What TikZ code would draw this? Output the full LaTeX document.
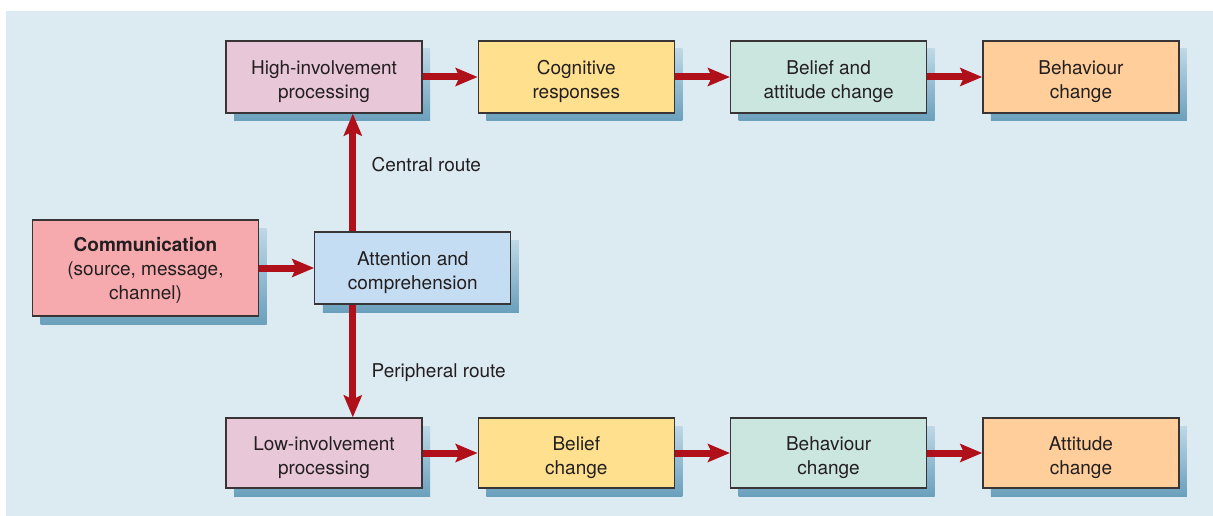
\documentclass[tikz,border=0pt]{standalone}
\usepackage{fontspec}
\setmainfont{TeX Gyre Heros}
\usepackage{tikz}
\usetikzlibrary{positioning,arrows.meta,shadows}
\definecolor{panel}{RGB}{220,234,242}
\definecolor{softpink}{RGB}{232,199,216}
\definecolor{softyellow}{RGB}{255,224,142}
\definecolor{softgreen}{RGB}{203,230,222}
\definecolor{softorange}{RGB}{255,206,154}
\definecolor{softred}{RGB}{247,170,174}
\definecolor{softblue}{RGB}{197,221,242}
\definecolor{arrowred}{RGB}{176,16,26}
\definecolor{shadetop}{RGB}{190,216,230}
\definecolor{shadebot}{RGB}{106,160,188}
\definecolor{inkgrey}{RGB}{35,31,32}

\begin{document}
\begin{tikzpicture}[
  x=1pt, y=-1pt,
  node distance=55pt,
  box/.style={draw=inkgrey!90, line width=1.3pt, minimum width=196pt,
              minimum height=72pt, align=center, text=inkgrey,
              font=\fontsize{19}{24}\selectfont, text height=47pt,
              general shadow={shadow xshift=8pt, shadow yshift=-8pt,
                              top color=shadetop, bottom color=shadebot}},
  involve/.style={box, fill=softpink},
  thought/.style={box, fill=softyellow},
  change/.style={box, fill=softgreen},
  outcome/.style={box, fill=softorange},
  arr/.style={-{Stealth[length=22pt, width=18pt, inset=4pt]},
              line width=7pt, draw=arrowred},
  route/.style={anchor=west, text=inkgrey, font=\fontsize{19}{24}\selectfont}
]
\useasboundingbox (0,0) rectangle (1213,516);
\fill[panel] (6,11) rectangle (1213,516);

% source and attention
\node[box, fill=softred, minimum width=226pt, minimum height=96pt, text height=67.5pt] (comm) at (145.5,268)
  {\textbf{Communication}\\(source, message,\\channel)};
\node[box, fill=softblue, right=55pt of comm] (attn) {Attention and\\comprehension};

% central route
\node[involve] (high) at (324,77) {High-involvement\\processing};
\node[thought, right=of high] (cogn) {Cognitive\\responses};
\node[change, right=of cogn] (belatt) {Belief and\\attitude change};
\node[outcome, right=of belatt] (behav) {Behaviour\\change};

% peripheral route
\node[involve, minimum height=70pt] (low) at (324,453) {Low-involvement\\processing};
\node[thought, minimum height=70pt, right=of low] (belief) {Belief\\change};
\node[change, minimum height=70pt, right=of belief] (behav2) {Behaviour\\change};
\node[outcome, minimum height=70pt, right=of behav2] (attit) {Attitude\\change};

\draw[arr] (comm) -- (attn);
\draw[arr] ([xshift=-60pt]attn.north) -- node[route, pos=0.565, xshift=12pt] (central) {Central route}
  ([xshift=-60pt]attn.north |- high.south);
\draw[arr] ([xshift=-60pt]attn.south) -- node[route, pos=0.6, xshift=12pt] (periph) {Peripheral route}
  ([xshift=-60pt]attn.south |- low.north);

\draw[arr] (high) -- (cogn);
\draw[arr] (cogn) -- (belatt);
\draw[arr] (belatt) -- (behav);
\draw[arr] (low) -- (belief);
\draw[arr] (belief) -- (behav2);
\draw[arr] (behav2) -- (attit);

\end{tikzpicture}
\end{document}
